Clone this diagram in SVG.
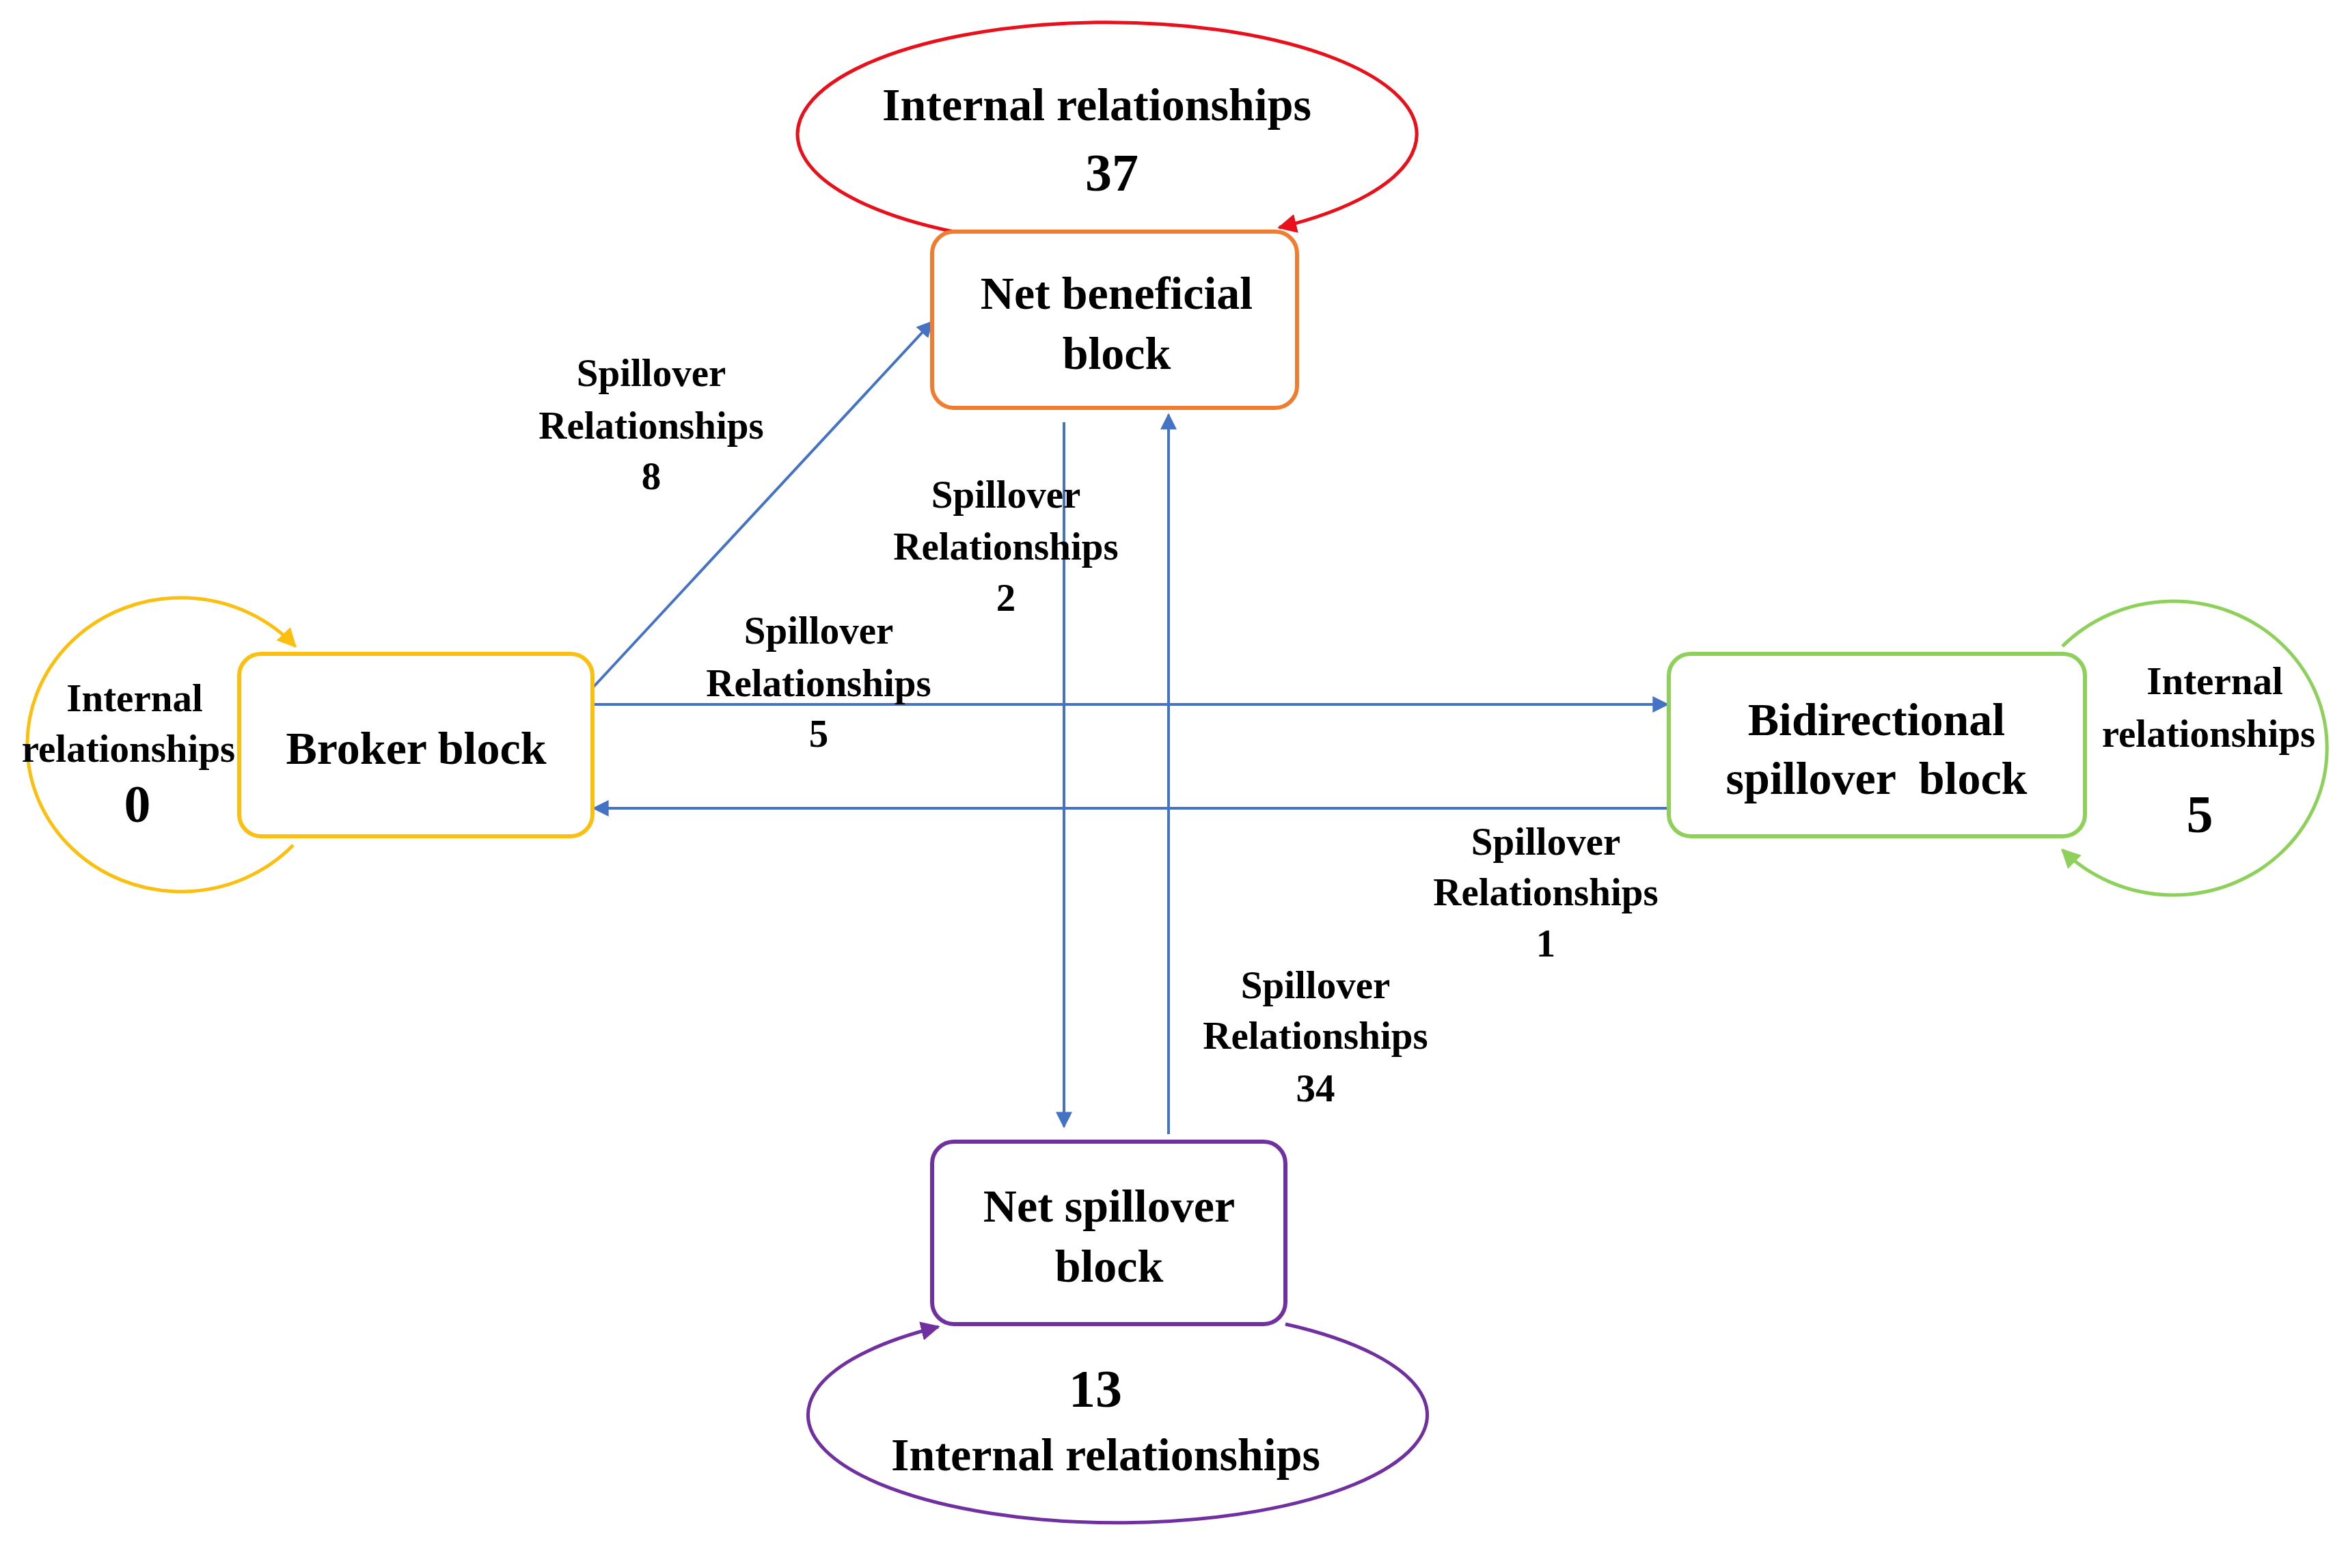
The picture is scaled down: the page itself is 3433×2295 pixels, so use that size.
<svg xmlns="http://www.w3.org/2000/svg" width="3433" height="2295" viewBox="0 0 3433 2295">
<style>
text{font-family:"Liberation Serif","Times New Roman",serif;font-weight:bold;text-anchor:middle;dominant-baseline:central;fill:#000}
.l{font-size:57px}.b{font-size:68px}.n{font-size:78px}
.box{fill:#fff;stroke-width:6}
.c{stroke:#4472c4;stroke-width:4;fill:none;marker-end:url(#ab)}
</style>
<defs>
<marker id="ab" viewBox="0 0 10 10" refX="9" refY="5" markerWidth="6" markerHeight="6" orient="auto" markerUnits="userSpaceOnUse" style="overflow:visible"><path d="M0,0L10,5L0,10z" fill="#4472c4" transform="scale(2.2) translate(-5.5,-2.7)"/></marker>
<marker id="ar" viewBox="0 0 10 10" refX="9" refY="5" markerWidth="28" markerHeight="28" orient="auto" markerUnits="userSpaceOnUse"><path d="M0,0L10,5L0,10z" fill="#e8101a"/></marker>
<marker id="ay" viewBox="0 0 10 10" refX="9" refY="5" markerWidth="28" markerHeight="28" orient="auto" markerUnits="userSpaceOnUse"><path d="M0,0L10,5L0,10z" fill="#fbbf10"/></marker>
<marker id="ag" viewBox="0 0 10 10" refX="9" refY="5" markerWidth="28" markerHeight="28" orient="auto" markerUnits="userSpaceOnUse"><path d="M0,0L10,5L0,10z" fill="#8dd05a"/></marker>
<marker id="ap" viewBox="0 0 10 10" refX="9" refY="5" markerWidth="28" markerHeight="28" orient="auto" markerUnits="userSpaceOnUse"><path d="M0,0L10,5L0,10z" fill="#7030a0"/></marker>
<marker id="bl" viewBox="0 0 10 10" refX="9" refY="5" markerWidth="24" markerHeight="24" orient="auto" markerUnits="userSpaceOnUse"><path d="M0,0L10,5L0,10z" fill="#4472c4"/></marker>
</defs>
<rect width="3433" height="2295" fill="#fff"/>
<g id="connectors">
<path d="M1395 339 A453 164 0 1 1 1872 333" fill="none" stroke="#e8101a" stroke-width="5" marker-end="url(#ar)"/>
<path d="M1881 1938 A453 158 0 1 1 1373 1942" fill="none" stroke="#7030a0" stroke-width="5" marker-end="url(#ap)"/>
<path d="M429 1237 A225 215 0 1 1 432 946" fill="none" stroke="#fbbf10" stroke-width="5" marker-end="url(#ay)"/>
<path d="M3018 946 A225 215 0 1 1 3018 1244" fill="none" stroke="#8dd05a" stroke-width="5" marker-end="url(#ag)"/>
<g stroke="#4472c4" stroke-width="4" fill="none">
<line x1="867" y1="1007" x2="1364" y2="471" marker-end="url(#bl)"/>
<line x1="867" y1="1031" x2="2440" y2="1031" marker-end="url(#bl)"/>
<line x1="2442" y1="1183" x2="869" y2="1183" marker-end="url(#bl)"/>
<line x1="1557" y1="618" x2="1557" y2="1649" marker-end="url(#bl)"/>
<line x1="1710" y1="1660" x2="1710" y2="607" marker-end="url(#bl)"/>
</g>
</g>
<g id="net-beneficial"><rect class="box" x="1364" y="339" width="534" height="258" rx="32" stroke="#f07c30"/>
<text class="b" x="1634" y="429">Net beneficial</text><text class="b" x="1634" y="517">block</text></g>
<g id="broker"><rect class="box" x="350" y="957" width="517" height="267" rx="32" stroke="#fbbf10"/>
<text class="b" x="609" y="1095">Broker block</text></g>
<g id="bidirectional"><rect class="box" x="2442" y="957" width="609" height="267" rx="32" stroke="#8dd05a"/>
<text class="b" x="2746" y="1053">Bidirectional</text><text class="b" x="2746" y="1139" xml:space="preserve">spillover  block</text></g>
<g id="net-spillover"><rect class="box" x="1364" y="1671" width="517" height="267" rx="32" stroke="#7030a0"/>
<text class="b" x="1623" y="1765">Net spillover</text><text class="b" x="1623" y="1853">block</text></g>
<g id="labels">
<text class="b" x="1605" y="153">Internal relationships</text><text class="n" x="1627" y="252">37</text>
<text class="n" x="1603" y="2032">13</text><text class="b" x="1618" y="2129">Internal relationships</text>
<text class="l" x="197" y="1021">Internal</text><text class="l" x="188" y="1095">relationships</text><text class="n" x="201" y="1176">0</text>
<text class="l" x="3241" y="996">Internal</text><text class="l" x="3232" y="1073">relationships</text><text class="n" x="3219" y="1191">5</text>
<text class="l" x="953" y="545">Spillover</text><text class="l" x="953" y="622">Relationships</text><text class="l" x="953" y="696">8</text>
<text class="l" x="1472" y="723">Spillover</text><text class="l" x="1472" y="799">Relationships</text><text class="l" x="1472" y="874">2</text>
<text class="l" x="1198" y="922">Spillover</text><text class="l" x="1198" y="999">Relationships</text><text class="l" x="1198" y="1073">5</text>
<text class="l" x="2262" y="1231">Spillover</text><text class="l" x="2262" y="1305">Relationships</text><text class="l" x="2262" y="1380">1</text>
<text class="l" x="1925" y="1441">Spillover</text><text class="l" x="1925" y="1515">Relationships</text><text class="l" x="1925" y="1592">34</text>
</g>
</svg>
